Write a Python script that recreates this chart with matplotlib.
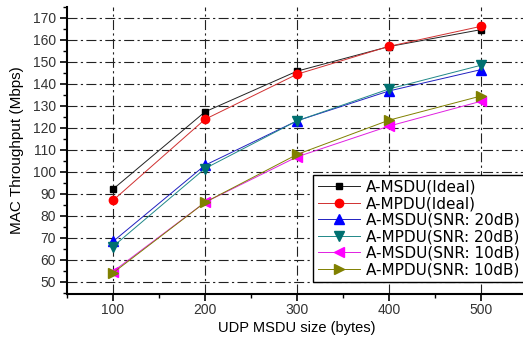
import matplotlib
matplotlib.use("Agg")
import matplotlib.pyplot as plt
from matplotlib.ticker import MultipleLocator

plt.rcParams['font.family'] = ['Liberation Sans', 'DejaVu Sans']

sizes = [100, 200, 300, 400, 500]
labels = ["A-MSDU(Ideal)", "A-MPDU(Ideal)", "A-MSDU(SNR: 20dB)",
          "A-MPDU(SNR: 20dB)", "A-MSDU(SNR: 10dB)", "A-MPDU(SNR: 10dB)"]
msdu_ideal = [92.1, 127.3, 145.8, 157.0, 164.7]
mpdu_ideal = [87.0, 123.9, 144.4, 157.1, 166.2]
msdu_20 = [68.3, 103.0, 123.2, 136.8, 146.5]
mpdu_20 = [66.0, 101.5, 123.2, 137.7, 148.5]
msdu_10 = [54.6, 86.1, 106.8, 120.8, 132.1]
mpdu_10 = [54.0, 86.1, 107.9, 123.5, 134.5]

series = [msdu_ideal, mpdu_ideal, msdu_20, mpdu_20, msdu_10, mpdu_10]
colors = ['#222222', '#d03030', '#2020c0', '#208888', '#e020e0', '#808000']
mcolors = ['black', 'red', 'blue', '#007070', '#ff00ff', '#808000']
markers = ['s', 'o', '^', 'v', '<', '>']
msizes = [5, 6, 7, 7, 7, 7]

fig = plt.figure(figsize=(5.23, 3.37), dpi=100)
ax = fig.add_axes([67/523, 1-294/337, (527-67)/523, 287/337])

for ys, lab, c, mc, m, ms in zip(series, labels, colors, mcolors, markers, msizes):
    ax.plot(sizes, ys, color=c, lw=0.7, marker=m, markersize=ms,
            markerfacecolor=mc, markeredgecolor=mc, label=lab)

ax.set_xlim(50, 550)
ax.set_ylim(44.4, 175)
ax.xaxis.set_major_locator(MultipleLocator(100))
ax.xaxis.set_minor_locator(MultipleLocator(50))
ax.yaxis.set_major_locator(MultipleLocator(10))
ax.yaxis.set_minor_locator(MultipleLocator(5))
ax.set_yticks(range(50, 171, 10))
ax.set_xticks(sizes)

for s in ['top', 'right']:
    ax.spines[s].set_visible(False)
ax.spines['left'].set_linewidth(1.5)
ax.spines['bottom'].set_linewidth(1.5)
ax.tick_params(which='major', direction='out', length=5, width=1.2,
               labelsize=10, labelcolor='#333333', pad=3)
ax.tick_params(axis='x', which='major', pad=1.5)
ax.tick_params(which='minor', direction='out', length=3, width=1)

ax.grid(True, which='major', color='#222222', lw=0.8, dashes=(9, 3, 2, 3))

ax.set_xlabel("UDP MSDU size (bytes)", fontsize=10.5, labelpad=3)
ax.set_ylabel("MAC Throughput (Mbps)", fontsize=11, labelpad=6)

leg = ax.legend(loc='upper left', bbox_to_anchor=(313/523, 1-175/337),
                bbox_transform=fig.transFigure,
                prop={'family': 'DejaVu Sans', 'size': 11}, frameon=True,
                fancybox=False, edgecolor='black', framealpha=1,
                handlelength=2.8, borderaxespad=0, labelspacing=0.1,
                borderpad=0.3, handletextpad=0.35)
leg.get_frame().set_linewidth(1.0)

fig.savefig("out.png", dpi=100)
